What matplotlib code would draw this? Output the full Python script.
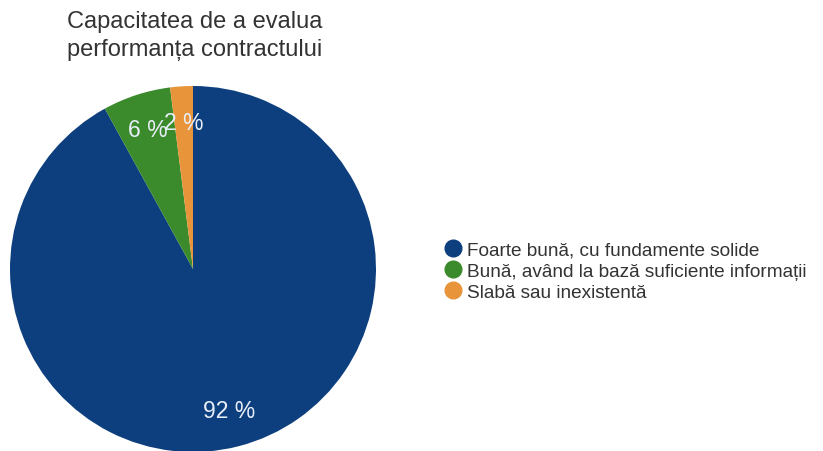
import matplotlib.pyplot as plt
from matplotlib.lines import Line2D

plt.rcParams['font.family'] = ['Liberation Sans', 'DejaVu Sans']

categorii = ['Foarte bună, cu fundamente solide',
             'Bună, având la bază suficiente informații',
             'Slabă sau inexistentă']
procente = [92, 6, 2]
culori = ['#0d3f7f', '#3b8a2b', '#e8943a']
titlu = 'Capacitatea de a evalua\nperformanța contractului'

fig = plt.figure(figsize=(8.23, 4.52), dpi=100)
ax = fig.add_axes([10/823, -1/452, 366/823, 366/452])

wedges, texte, pct = ax.pie(procente, colors=culori, startangle=90, counterclock=False,
                            autopct=lambda p: '%d %%' % round(p), pctdistance=0.8,
                            wedgeprops=dict(linewidth=0))
for t in pct:
    t.set_color('#e8eef8')
    t.set_fontsize(16.5)
ax.set_xlim(-1, 1)
ax.set_ylim(-1, 1)
ax.set_aspect('equal')

fig.text(195/823, 1 - 36/452, titlu, ha='center', va='center', fontsize=17,
         color='#333333', linespacing=1.38, multialignment='center')

handles = [Line2D([], [], marker='o', linestyle='', markersize=12,
                  markerfacecolor=c, markeredgecolor=c) for c in culori]
fig.legend(handles, categorii, loc='center left', bbox_to_anchor=(434/823, 1 - 272/452),
           frameon=False, fontsize=13.7, handletextpad=0.25, labelspacing=0.2,
           handlelength=1.0, borderpad=0, labelcolor='#333333')

fig.savefig('out.png', dpi=100)
